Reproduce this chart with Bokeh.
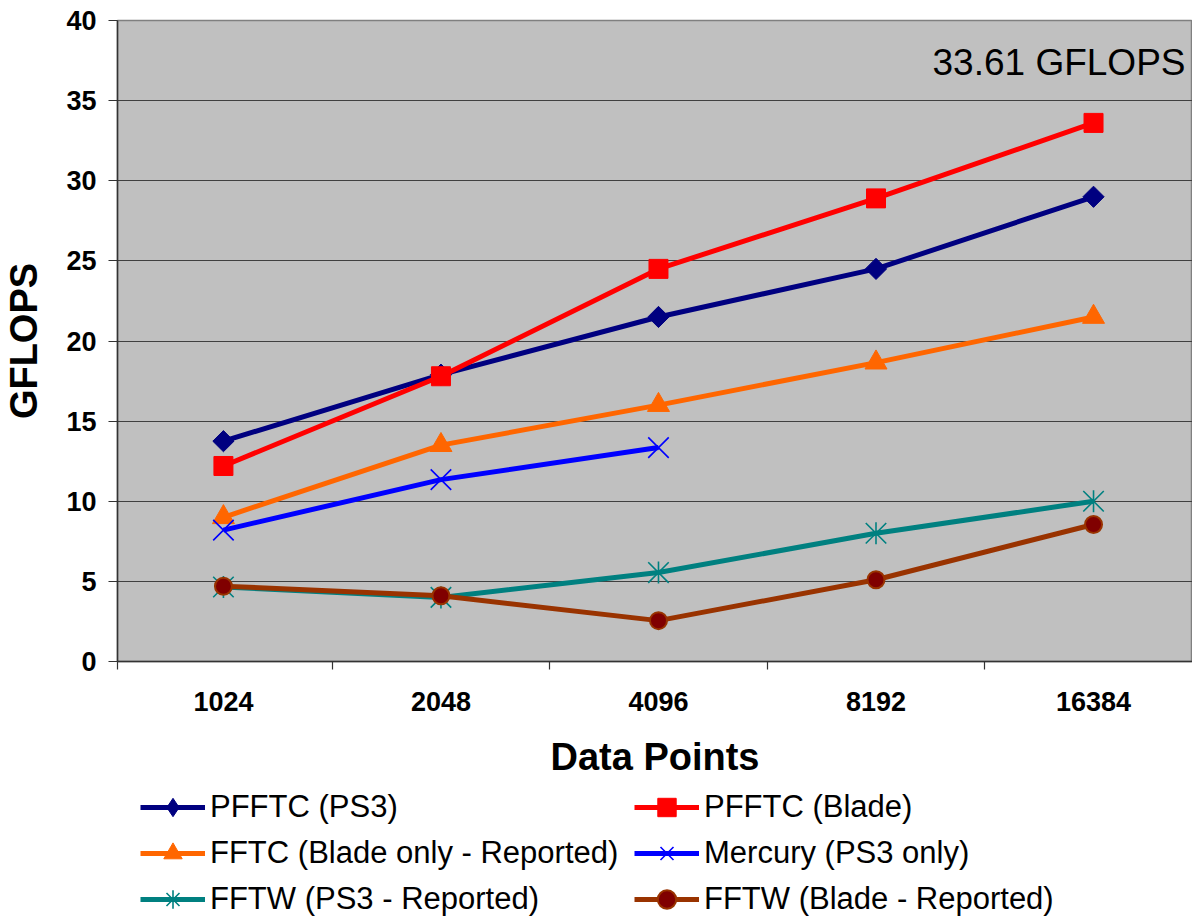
from bokeh.plotting import figure
from bokeh.layouts import column
from bokeh.models import FixedTicker, Legend, LegendItem, Label, Range1d
from bokeh.embed import file_html
from bokeh.resources import INLINE

# ---- data ----
categories = ["1024", "2048", "4096", "8192", "16384"]
pfftc_ps3 = [13.75, 17.9, 21.5, 24.5, 29.0]
pfftc_blade = [12.2, 17.8, 24.5, 28.9, 33.61]
fftc_blade = [9.0, 13.5, 16.0, 18.65, 21.5]
mercury_ps3 = [8.2, 11.35, 13.35]
fftw_ps3 = [4.65, 4.0, 5.55, 8.0, 10.0]
fftw_blade = [4.7, 4.1, 2.55, 5.1, 8.55]
y_ticks = [0, 5, 10, 15, 20, 25, 30, 35, 40]
series_names = ["PFFTC (PS3)", "PFFTC (Blade)", "FFTC (Blade only - Reported)",
                "Mercury (PS3 only)", "FFTW (PS3 - Reported)", "FFTW (Blade - Reported)"]
annotation_text = "33.61 GFLOPS"
annotation_value = 37.4

FONT = "Liberation Sans"
X_START, X_END = -0.487, 4.455

p = figure(width=1192, height=783, output_backend="svg", toolbar_location=None,
           title=None,
           x_range=Range1d(X_START, X_END), y_range=Range1d(0, 40),
           min_border_left=117, min_border_right=0, min_border_top=20,
           min_border_bottom=122)

p.background_fill_color = "#C0C0C0"
p.border_fill_color = "white"
p.outline_line_color = "#808080"
p.outline_line_width = 1.5

xs_idx = list(range(len(categories)))
p.xaxis.ticker = FixedTicker(ticks=xs_idx,
                             minor_ticks=[X_START] + [i + 0.5 for i in xs_idx[:-1]])
p.xaxis.major_label_overrides = {i: c for i, c in enumerate(categories)}
p.xaxis.major_tick_out = 0
p.xaxis.major_tick_in = 0
p.xaxis.minor_tick_out = 8
p.xaxis.minor_tick_in = 0
p.xaxis.minor_tick_line_color = "#333333"
p.xaxis.minor_tick_line_width = 1.2
p.xaxis.major_label_standoff = 22
p.xaxis.axis_label = "Data Points"
p.xaxis.axis_label_standoff = 22

p.yaxis.ticker = FixedTicker(ticks=y_ticks)
p.yaxis.major_tick_out = 9
p.yaxis.major_tick_in = 0
p.yaxis.minor_tick_out = 0
p.yaxis.minor_tick_in = 0
p.yaxis.major_tick_line_color = "#333333"
p.yaxis.major_tick_line_width = 1.2
p.yaxis.major_label_standoff = 12
p.yaxis.axis_label = "GFLOPS"
p.yaxis.axis_label_standoff = 18

for ax in (p.xaxis[0], p.yaxis[0]):
    ax.axis_line_color = "#333333"
    ax.axis_line_width = 1.5
    ax.major_label_text_font = FONT
    ax.major_label_text_font_style = "bold"
    ax.major_label_text_font_size = "27px"
    ax.major_label_text_color = "black"
    ax.axis_label_text_font = FONT
    ax.axis_label_text_font_style = "bold"
    ax.axis_label_text_font_size = "38px"
    ax.axis_label_text_color = "black"

p.xgrid.grid_line_color = None
p.ygrid.grid_line_color = "#404040"
p.ygrid.grid_line_width = 1.2

# each series: values, line colour, marker layers (main plot), marker layers (legend)
specs = [
    (pfftc_ps3, "#000080",
     [dict(marker="square", angle=0.785398, size=15, fill_color="#000080", line_color="#000080")],
     [dict(marker="diamond", fill_color="#000080", line_color="#000080")]),
    (pfftc_blade, "#FF0000",
     [dict(marker="square", size=19, fill_color="#FF0000", line_color="#FF0000")],
     [dict(marker="square", fill_color="#FF0000", line_color="#FF0000")]),
    (fftc_blade, "#FF6600",
     [dict(marker="triangle", size=22, fill_color="#FF6600", line_color="#FF6600")],
     [dict(marker="triangle", fill_color="#FF6600", line_color="#FF6600")]),
    (mercury_ps3, "#0000FF",
     [dict(marker="x", size=29, line_width=1.6, line_color="#0000FF")],
     [dict(marker="x", line_width=1.6, line_color="#0000FF")]),
    (fftw_ps3, "#008080",
     [dict(marker="x", size=29, line_width=1.6, line_color="#008080"),
      dict(marker="dash", angle=1.5708, size=22, line_width=1.6, line_color="#008080")],
     [dict(marker="asterisk", line_width=1.6, line_color="#008080")]),
    (fftw_blade, "#993300",
     [dict(marker="circle", size=17, line_width=2, fill_color="#800000", line_color="#993300")],
     [dict(marker="circle", line_width=2, fill_color="#800000", line_color="#993300")]),
]

for vals, color, layers, _ in specs:
    xv = xs_idx[:len(vals)]
    p.line(xv, vals, line_color=color, line_width=5)
    for mk in layers:
        p.scatter(xv, vals, **mk)

p.add_layout(Label(x=X_END, y=annotation_value, x_offset=-7,
                   text=annotation_text, text_align="right",
                   text_baseline="alphabetic", text_font=FONT,
                   text_font_size="37px", text_color="black"))

# ---- legend strip (separate figure below the chart, frames aligned) ----
p2 = figure(width=1192, height=135, output_backend="svg", toolbar_location=None,
            title=None, x_axis_location=None, y_axis_location=None,
            x_range=Range1d(100, 101), y_range=Range1d(100, 101),
            min_border=0, min_border_left=0, min_border_right=0,
            min_border_top=0, min_border_bottom=0)
p2.outline_line_color = None
p2.background_fill_color = "white"
p2.border_fill_color = "white"
p2.grid.visible = False

items = []
for name, (vals, color, _, leg_layers) in zip(series_names, specs):
    xv = xs_idx[:len(vals)]
    rs = [p2.line(xv, vals, line_color=color, line_width=5)]
    for mk in leg_layers:
        rs.append(p2.scatter(xv, vals, **mk))
    items.append(LegendItem(label=name, renderers=rs))

def make_legend(its, loc):
    return Legend(items=its, location=loc, orientation="vertical",
                  glyph_width=65, glyph_height=46, label_height=46,
                  label_standoff=5, spacing=0, padding=0, margin=0,
                  border_line_color=None, background_fill_alpha=0,
                  label_text_font=FONT, label_text_font_size="31px",
                  label_text_color="black", label_text_baseline="middle")

p2.add_layout(make_legend([items[0], items[2], items[4]], (23, -4)), "center")
p2.add_layout(make_legend([items[1], items[3], items[5]], (517, -4)), "center")

layout = column(p, p2, spacing=0)
open("out.html", "w").write(file_html(layout, INLINE))
